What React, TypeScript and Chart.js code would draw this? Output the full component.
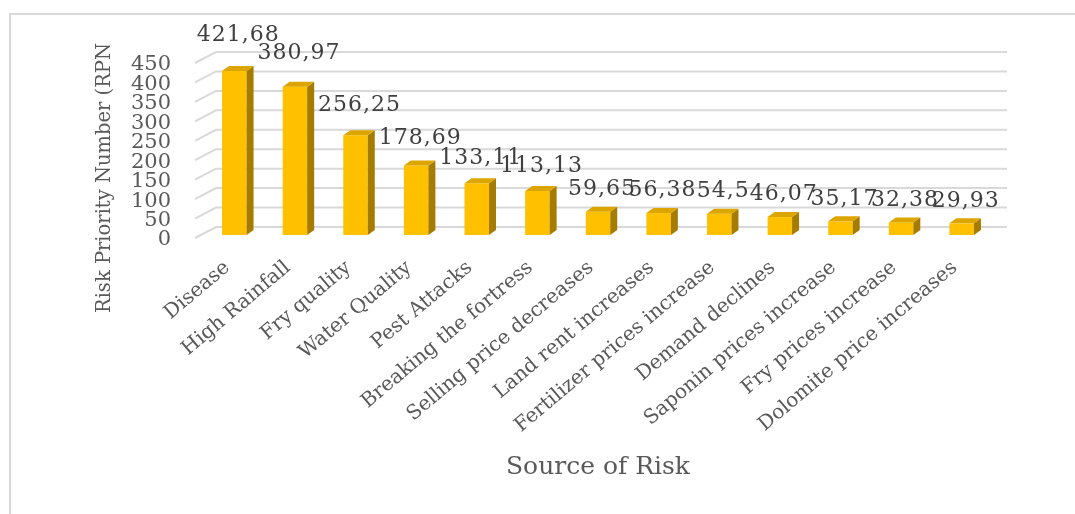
import React, { useEffect, useRef } from "react";
import { Chart, registerables } from "chart.js";

Chart.register(...registerables);

// Risk sources and their Risk Priority Numbers
const riskSources = [
  "Disease",
  "High Rainfall",
  "Fry quality",
  "Water Quality",
  "Pest Attacks",
  "Breaking the fortress",
  "Selling price decreases",
  "Land rent increases",
  "Fertilizer prices increase",
  "Demand declines",
  "Saponin prices increase",
  "Fry prices increase",
  "Dolomite price increases",
];
const rpnValues = [
  421.68, 380.97, 256.25, 178.69, 133.11, 113.13, 59.65, 56.38, 54.5, 46.07,
  35.17, 32.38, 29.93,
];
const yAxisTitle = "Risk Priority Number (RPN";
const xAxisTitle = "Source of Risk";
const yMin = 0;
const yMax = 450;
const yStep = 50;

const W = 1075;
const H = 514;
const SERIF = '"DejaVu Serif", serif';
const TEXT = "#595959";
const LABEL = "#404040";
const FRONT = "#FFC000";
const SIDE = "#A67C00";
const TOP = "#DDA500";
const GRID = "#D9D9D9";

// Offsets of the front and back edges of the floor/wall relative to the plot area
const FLOOR_FRONT = { dx: -9, dy: 3 };
const FLOOR_BACK = { dx: 12, dy: -8 };
// Depth of each bar's side and top face
const BAR_DEPTH = { dx: 7, dy: -5 };

const fmt = (v: number) => String(v).replace(".", ",");

const frame3d = {
  id: "frame3d",
  beforeDraw(chart: any) {
    const { ctx } = chart;
    ctx.save();
    ctx.strokeStyle = GRID;
    ctx.lineWidth = 2;
    ctx.beginPath();
    ctx.moveTo(10, H);
    ctx.lineTo(10, 14);
    ctx.lineTo(chart.width, 14);
    ctx.stroke();
    ctx.restore();
  },
  beforeDatasetsDraw(chart: any) {
    const { ctx, chartArea: a } = chart;
    const y = chart.scales.y;
    ctx.save();
    ctx.strokeStyle = GRID;
    ctx.lineWidth = 2;
    for (const t of y.ticks) {
      const py = y.getPixelForValue(t.value);
      ctx.beginPath();
      ctx.moveTo(a.left + FLOOR_FRONT.dx, py + FLOOR_FRONT.dy);
      ctx.lineTo(a.left + FLOOR_BACK.dx, py + FLOOR_BACK.dy);
      ctx.lineTo(a.right + FLOOR_BACK.dx + 3, py + FLOOR_BACK.dy);
      ctx.stroke();
    }
    ctx.restore();
  },
  afterDatasetsDraw(chart: any) {
    const { ctx } = chart;
    const meta = chart.getDatasetMeta(0);
    const y = chart.scales.y;
    const base = y.getPixelForValue(0);
    ctx.save();
    // side and top faces of each bar
    meta.data.forEach((bar: any) => {
      const half = bar.width / 2;
      const l = bar.x - half;
      const r = bar.x + half;
      const t = bar.y;
      ctx.fillStyle = SIDE;
      ctx.beginPath();
      ctx.moveTo(r, t);
      ctx.lineTo(r + BAR_DEPTH.dx, t + BAR_DEPTH.dy);
      ctx.lineTo(r + BAR_DEPTH.dx, base + BAR_DEPTH.dy);
      ctx.lineTo(r, base);
      ctx.closePath();
      ctx.fill();
      ctx.fillStyle = TOP;
      ctx.beginPath();
      ctx.moveTo(l, t);
      ctx.lineTo(r, t);
      ctx.lineTo(r + BAR_DEPTH.dx, t + BAR_DEPTH.dy);
      ctx.lineTo(l + BAR_DEPTH.dx, t + BAR_DEPTH.dy);
      ctx.closePath();
      ctx.fill();
    });
    // value labels
    ctx.font = `22px ${SERIF}`;
    (ctx as any).letterSpacing = "1px";
    ctx.fillStyle = LABEL;
    ctx.textAlign = "center";
    ctx.textBaseline = "alphabetic";
    meta.data.forEach((bar: any, i: number) => {
      const v = rpnValues[i];
      ctx.fillText(fmt(v), bar.x + 4, bar.y - (15 + 0.035 * v));
    });
    (ctx as any).letterSpacing = "0px";
    // vertical axis title
    ctx.font = `19.5px ${SERIF}`;
    ctx.fillStyle = TEXT;
    ctx.textBaseline = "middle";
    ctx.translate(105, 178);
    ctx.rotate(-Math.PI / 2);
    ctx.fillText(yAxisTitle, 0, 0);
    ctx.restore();
  },
};

export default function App() {
  const canvasRef = useRef<HTMLCanvasElement>(null);

  useEffect(() => {
    const canvas = canvasRef.current;
    if (!canvas) return;
    const chart = new Chart(canvas, {
      type: "bar",
      data: {
        labels: riskSources,
        datasets: [
          {
            data: rpnValues,
            backgroundColor: FRONT,
            borderWidth: 0,
            barPercentage: 0.404,
            categoryPercentage: 1,
          },
        ],
      },
      options: {
        responsive: false,
        animation: false,
        layout: { padding: { top: 60, right: 83, bottom: 32, left: 0 } },
        plugins: {
          legend: { display: false },
          tooltip: { enabled: false },
        },
        scales: {
          x: {
            grid: { display: false },
            border: { display: false },
            ticks: {
              autoSkip: false,
              minRotation: 40,
              maxRotation: 40,
              padding: 13,
              labelOffset: -7,
              color: TEXT,
              font: { family: SERIF, size: 20 },
            },
            title: {
              display: true,
              text: xAxisTitle,
              color: TEXT,
              font: { family: SERIF, size: 25 },
              padding: 0,
            },
            afterFit: (s: any) => {
              s.height = 247;
            },
          },
          y: {
            min: yMin,
            max: yMax,
            grid: { display: false },
            border: { display: false },
            ticks: {
              autoSkip: false,
              stepSize: yStep,
              padding: 25,
              labelOffset: 5,
              color: TEXT,
              font: { family: SERIF, size: 21 },
            },
            afterFit: (s: any) => {
              s.width = 204;
            },
          },
        },
      },
      plugins: [frame3d],
    });
    return () => chart.destroy();
  }, []);

  return (
    <canvas
      ref={canvasRef}
      width={W}
      height={H}
      style={{ position: "absolute", left: 0, top: 0, display: "block" }}
    />
  );
}
